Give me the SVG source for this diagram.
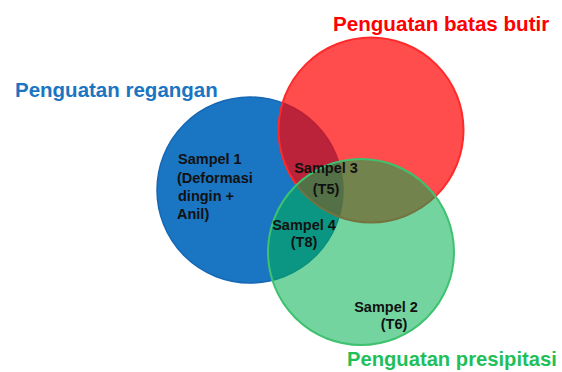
<svg xmlns="http://www.w3.org/2000/svg" width="562" height="372" viewBox="0 0 562 372">
<style>
.title{font-family:"Liberation Sans",Arial,sans-serif;font-weight:bold;font-size:20.5px}
.lbl{font-family:"Liberation Sans",Arial,sans-serif;font-weight:bold;font-size:14.5px;fill:#111}
</style>
<rect width="562" height="372" fill="#fff"/>
<g id="blue">
<circle cx="250" cy="190" r="93" fill="#1a75c2" stroke="#1668b4" stroke-width="1.5"/>
</g>
<g id="red">
<circle cx="371" cy="130" r="92.5" fill="rgb(255,0,0)" fill-opacity="0.7" stroke="#ff2a2a" stroke-width="2"/>
</g>
<g id="green">
<circle cx="361" cy="252" r="93" fill="rgb(0,176,80)" fill-opacity="0.55" stroke="#3fc270" stroke-width="2"/>
</g>
<g id="labels">
<text class="title" x="15" y="97" fill="#1a75c2">Penguatan regangan</text>
<text class="title" x="333" y="31" fill="#ff0000" style="font-size:20.6px">Penguatan batas butir</text>
<text class="title" x="347" y="366" fill="#1fbf5a" style="font-size:20.2px">Penguatan presipitasi</text>
</g>
<g id="sampel1">
<text class="lbl" x="178" y="164">Sampel 1</text>
<text class="lbl" x="177" y="183">(Deformasi</text>
<text class="lbl" x="178" y="201">dingin +</text>
<text class="lbl" x="177" y="219">Anil)</text>
</g>
<g id="sampel3">
<text class="lbl" x="326" y="173" text-anchor="middle">Sampel 3</text>
<text class="lbl" x="326" y="194" text-anchor="middle">(T5)</text>
</g>
<g id="sampel4">
<text class="lbl" x="304" y="230" text-anchor="middle">Sampel 4</text>
<text class="lbl" x="304" y="247" text-anchor="middle">(T8)</text>
</g>
<g id="sampel2">
<text class="lbl" x="386" y="312" text-anchor="middle">Sampel 2</text>
<text class="lbl" x="394" y="329" text-anchor="middle">(T6)</text>
</g>
</svg>
